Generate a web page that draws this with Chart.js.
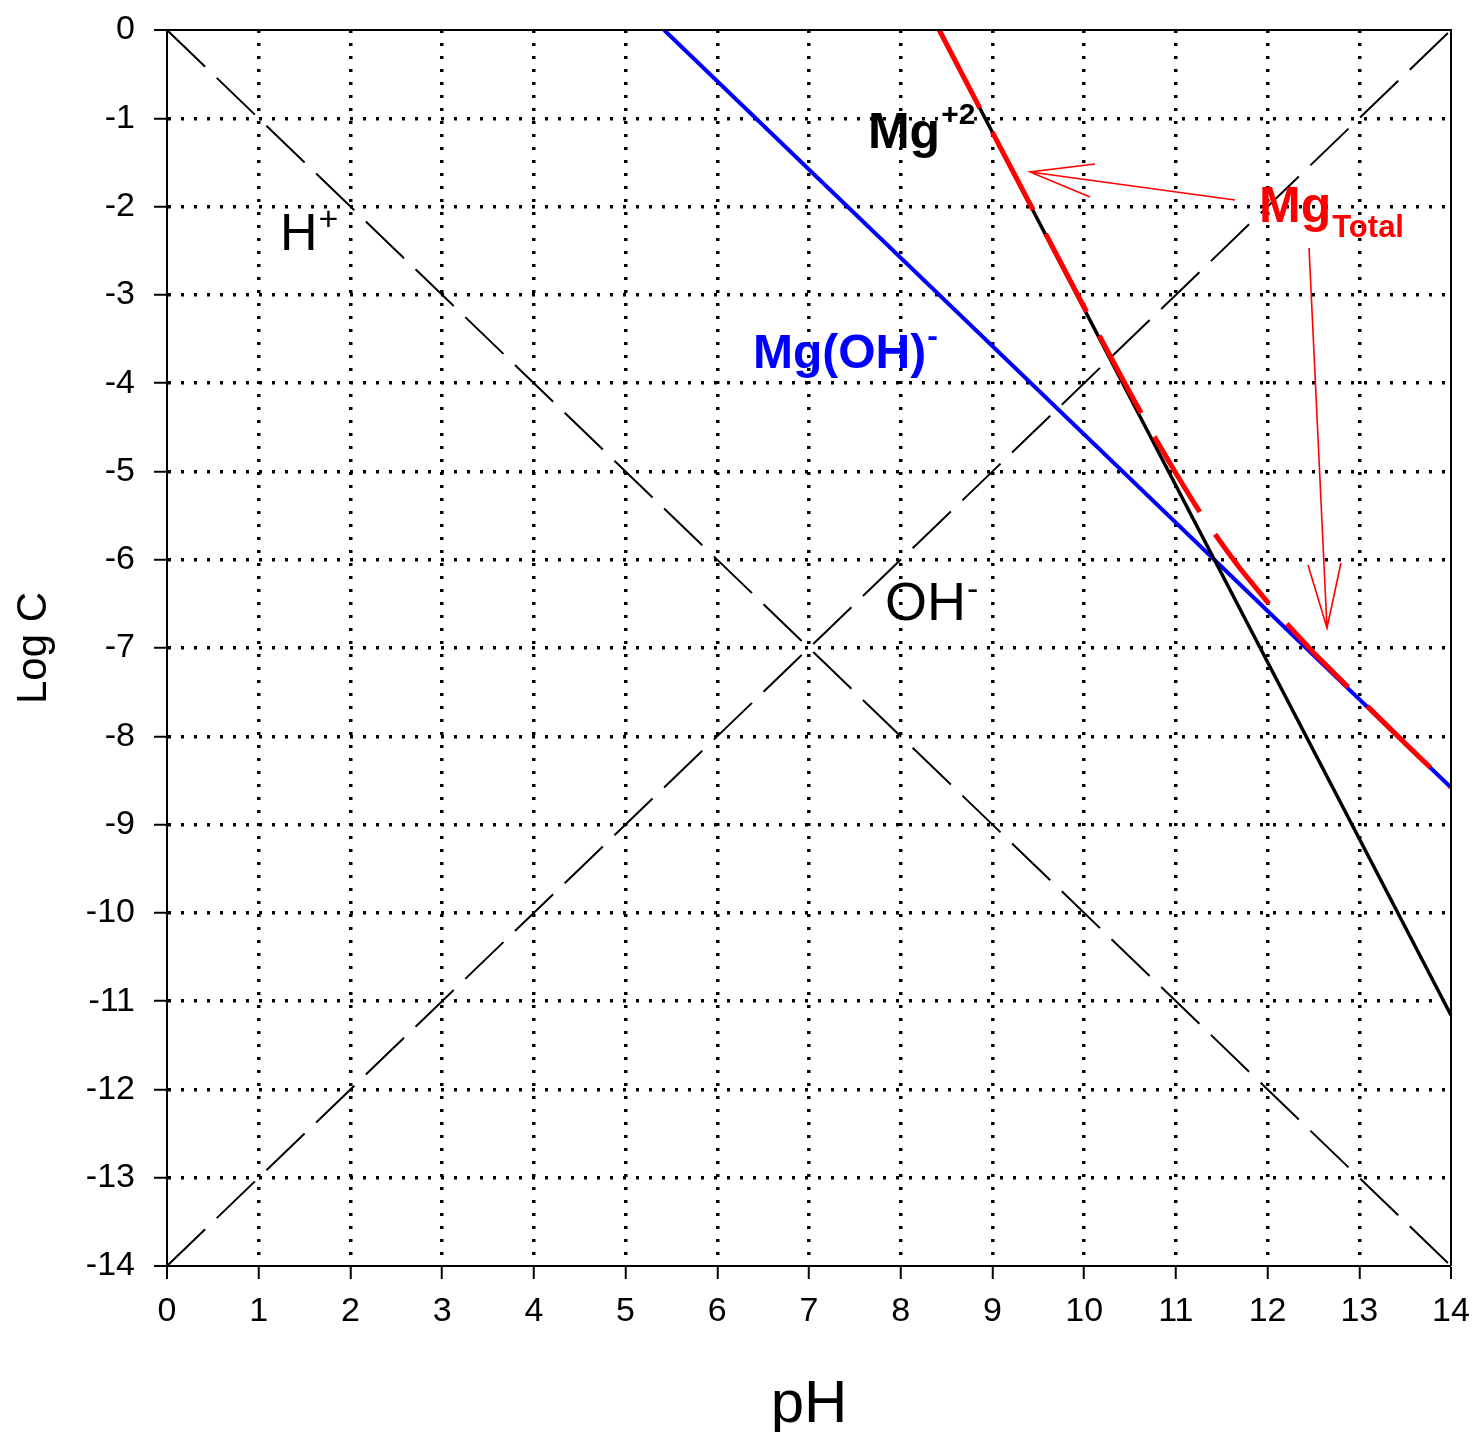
<!DOCTYPE html>
<html>
<head>
<meta charset="utf-8">
<script src="https://cdn.jsdelivr.net/npm/chart.js@4/dist/chart.umd.min.js"></script>
<style>
  html, body { margin: 0; padding: 0; background: #ffffff; }
  #wrap { width: 1479px; height: 1432px; }
</style>
</head>
<body>
<div id="wrap"><canvas id="c" width="1479" height="1432"></canvas></div>
<script>
// ---- data ----
const xTicks = [0,1,2,3,4,5,6,7,8,9,10,11,12,13,14];
const yTicks = [0,-1,-2,-3,-4,-5,-6,-7,-8,-9,-10,-11,-12,-13,-14];

const pH_H = [0, 14];
const logH = [0, -14];

const pH_OH = [0, 14];
const logOH = [-14, 0];

const pH_Mg = [8.42, 14];
const logMg = [0, -11.16];

const pH_MgOH = [5.42, 14];
const logMgOH = [0, -8.58];

const pH_MgT = [8.42, 9, 9.5, 10, 10.5, 10.75, 11, 11.1, 11.2, 11.3, 11.42, 11.55, 11.7, 11.85, 12, 12.25, 12.5, 13, 13.5, 14];
const logMgT = [0, -1.16, -2.15, -3.14, -4.11, -4.58, -5.02, -5.19, -5.36, -5.52, -5.70, -5.89, -6.10, -6.29, -6.48, -6.77, -7.05, -7.57, -8.08, -8.58];

const pts = (xs, ys) => xs.map((x, i) => ({x: x, y: ys[i]}));

const FONT = '"Liberation Sans", Arial, sans-serif';

const annot = {
  id: 'annot',
  afterDatasetsDraw(chart) {
    const ctx = chart.ctx;
    const xs = chart.scales.x, ys = chart.scales.y;
    const X = v => xs.getPixelForValue(v), Y = v => ys.getPixelForValue(v);
    const a = chart.chartArea;
    ctx.save();
    // frame (top and right)
    ctx.strokeStyle = '#000'; ctx.lineWidth = 2;
    ctx.beginPath();
    ctx.moveTo(a.left, a.top); ctx.lineTo(a.right, a.top); ctx.lineTo(a.right, a.bottom);
    ctx.stroke();

    // arrows
    ctx.strokeStyle = '#ff0000'; ctx.lineWidth = 1.6;
    const arrow = (t, h, b1, b2) => {
      ctx.beginPath();
      ctx.moveTo(X(t[0]), Y(t[1])); ctx.lineTo(X(h[0]), Y(h[1]));
      ctx.moveTo(X(b1[0]), Y(b1[1])); ctx.lineTo(X(h[0]), Y(h[1])); ctx.lineTo(X(b2[0]), Y(b2[1]));
      ctx.stroke();
    };
    arrow([11.645, -1.926], [9.41, -1.608], [10.118, -1.518], [10.064, -1.892]);
    arrow([12.452, -2.469], [12.648, -6.773], [12.441, -6.06], [12.80, -6.037]);

    // labels with super/subscripts
    ctx.textAlign = 'left'; ctx.textBaseline = 'alphabetic';
    const label = (x, y, main, mainFont, extra, extraFont, dy, color) => {
      ctx.fillStyle = color;
      ctx.font = mainFont;
      const px = X(x), py = Y(y);
      ctx.fillText(main, px, py);
      const w = ctx.measureText(main).width;
      ctx.font = extraFont;
      ctx.fillText(extra, px + w + 1, py + dy);
    };
    label(1.232, -2.49, 'H', '52px ' + FONT, '+', '34px ' + FONT, -20, '#000');
    label(7.829, -6.683, 'OH', '54px ' + FONT, '-', '34px ' + FONT, -20, '#000');
    label(6.389, -3.828, 'Mg(OH)', 'bold 48px ' + FONT, '-', 'bold 32px ' + FONT, -22, '#0000ff');
    label(7.643, -1.337, 'Mg', 'bold 50px ' + FONT, '+2', 'bold 30px ' + FONT, -24, '#000');
    label(11.907, -2.175, 'Mg', 'bold 50px ' + FONT, 'Total', 'bold 31px ' + FONT, 15, '#ff0000');

    // axis titles
    ctx.fillStyle = '#000';
    ctx.font = '60px ' + FONT;
    ctx.textAlign = 'center';
    ctx.fillText('pH', (a.left + a.right) / 2, 1422);
    ctx.save();
    ctx.translate(46, 648);
    ctx.rotate(-Math.PI / 2);
    ctx.font = '42px ' + FONT;
    ctx.fillText('Log C', 0, 0);
    ctx.restore();
    ctx.restore();
  }
};

const gridCommon = {
  color: '#000',
  lineWidth: c => (c.index === 0 || c.index === 14) ? 0 : 3.5,
  drawTicks: true,
  tickLength: 13,
  tickColor: '#000',
  tickWidth: 2,
  tickBorderDash: []
};

const zeroPad = s => { s.paddingTop = 0; s.paddingBottom = 0; s.paddingLeft = 0; s.paddingRight = 0; };

new Chart(document.getElementById('c'), {
  type: 'line',
  data: {
    datasets: [
      { label: 'MgTotal', data: pts(pH_MgT, logMgT), borderColor: '#ff0000', borderWidth: 5, borderDash: [88, 27], pointRadius: 0, tension: 0, borderCapStyle: 'butt', fill: false },
      { label: 'Mg+2', data: pts(pH_Mg, logMg), borderColor: '#000000', borderWidth: 3.5, pointRadius: 0, fill: false },
      { label: 'Mg(OH)-', data: pts(pH_MgOH, logMgOH), borderColor: '#0000ff', borderWidth: 4, pointRadius: 0, fill: false },
      { label: 'H+', data: pts(pH_H, logH), borderColor: '#000000', borderWidth: 2, borderDash: [53, 16], pointRadius: 0, fill: false },
      { label: 'OH-', data: pts(pH_OH, logOH), borderColor: '#000000', borderWidth: 2, borderDash: [53, 16], pointRadius: 0, fill: false }
    ]
  },
  options: {
    responsive: false,
    animation: false,
    devicePixelRatio: 1,
    layout: { padding: { left: 0, top: 30, right: 28, bottom: 0 } },
    plugins: { legend: { display: false }, tooltip: { enabled: false }, title: { display: false } },
    scales: {
      x: {
        type: 'linear', min: 0, max: 14,
        afterBuildTicks: s => { s.ticks = xTicks.map(v => ({value: v})); },
        afterFit: s => { s.height = 166; zeroPad(s); },
        ticks: { color: '#000', font: { family: FONT, size: 34 }, padding: 12, autoSkip: false, maxRotation: 0 },
        grid: gridCommon,
        border: { display: true, color: '#000', width: 2, dash: [3, 10] }
      },
      y: {
        type: 'linear', min: -14, max: 0,
        afterBuildTicks: s => { s.ticks = yTicks.map(v => ({value: v})); },
        afterFit: s => { s.width = 167; zeroPad(s); },
        ticks: { color: '#000', font: { family: FONT, size: 34 }, padding: 19, autoSkip: false },
        grid: gridCommon,
        border: { display: true, color: '#000', width: 2, dash: [3, 10] }
      }
    }
  },
  plugins: [annot]
});
</script>
</body>
</html>
